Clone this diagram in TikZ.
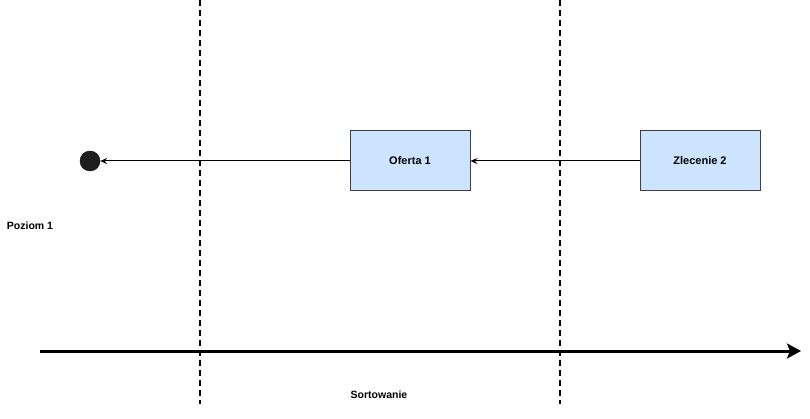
\documentclass[tikz,border=0pt]{standalone}
\usepackage{fontspec}
\setmainfont{Liberation Sans}
\usetikzlibrary{arrows.meta}
\begin{document}
\begin{tikzpicture}[x=1pt,y=-1pt,
  box/.style={draw=black!75,fill={rgb,255:red,204;green,228;blue,255},line width=1pt,minimum width=120pt,minimum height=60pt,inner sep=0pt,font=\fontsize{11}{13}\selectfont\bfseries},
  lbl/.style={font=\fontsize{10.5}{12}\selectfont\bfseries,inner sep=0pt},
  conn/.style={line width=1pt,-{Stealth[length=7pt,width=6pt,inset=2.5pt]}},
  divider/.style={line width=1.5pt,dash pattern=on 6pt off 4pt}]
\useasboundingbox (0,0) rectangle (810,419);
\coordinate (d1t) at (200,0);
\coordinate (d1b) at (200,404);
\coordinate (d2t) at (560,0);
\coordinate (d2b) at (560,404);
\draw[divider] (d1t) -- (d1b);
\draw[divider] (d2t) -- (d2b);
\node[circle,fill=black!88,draw=black,minimum size=20pt,inner sep=0pt] (dot) at (90,161) {};
\node[box] (of) at (410,161) {Oferta 1};
\node[box] (zl) at (700,161) {Zlecenie 2};
\draw[conn] (zl) -- (of);
\draw[conn] (of) -- (dot);
\coordinate (axs) at (40,351);
\coordinate (axe) at (801,351);
\draw[line width=3pt,-{Stealth[length=14pt,width=15pt,inset=3pt]}] (axs) -- (axe);
\node[lbl] (pz) at (30,226) {Poziom 1};
\node[lbl] (so) at (379,395) {Sortowanie};
\end{tikzpicture}
\end{document}
